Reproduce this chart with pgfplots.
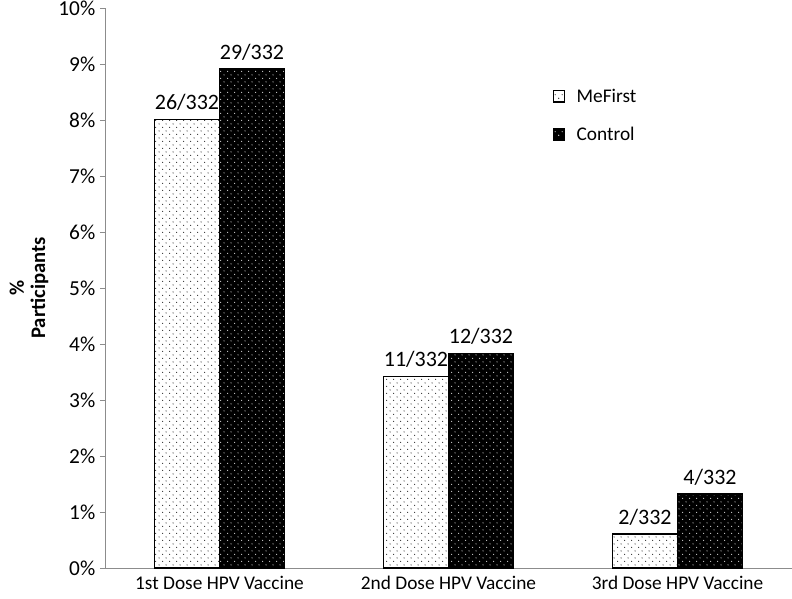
\documentclass[border=0pt]{standalone}
\usepackage{fontspec}
\setmainfont{Carlito}
\usepackage{pgfplots}
\pgfplotsset{compat=1.18}
\usetikzlibrary{patterns}
\pgfdeclarepatternformonly{sdots}{\pgfpointorigin}{\pgfqpoint{5.5pt}{5.5pt}}{\pgfqpoint{5.5pt}{5.5pt}}{%
  \pgfpathcircle{\pgfqpoint{1.375pt}{1.375pt}}{0.45pt}%
  \pgfpathcircle{\pgfqpoint{4.125pt}{4.125pt}}{0.45pt}%
  \pgfusepath{fill}}
\pgfplotstableread{
x y lab
0 8.01 26/332
1 3.42 11/332
2 0.61 2/332
}\mefirst
\pgfplotstableread{
x y lab
0 8.91 29/332
1 3.83 12/332
2 1.32 4/332
}\control
\begin{document}
\begin{tikzpicture}
\begin{axis}[
  name=ax,
  scale only axis,
  width=515.25pt, height=420pt,
  xmin=-0.5, xmax=2.5, ymin=0, ymax=10,
  ybar=0pt, bar width=48.75pt,
  axis x line*=bottom, axis y line*=left,
  axis line style={-, draw=gray!90},
  xtick={0,1,2},
  xticklabels={1st Dose HPV Vaccine,2nd Dose HPV Vaccine,3rd Dose HPV Vaccine},
  xtick style={draw=none},
  ytick={0,1,...,10},
  ytick style={draw=gray!90},
  tick align=outside,
  major tick length=3.75pt,
  yticklabel={\pgfmathprintnumber{\tick}\%},
  /pgf/number format/assume math mode=true,
  yticklabel style={font=\fontsize{16}{17}\selectfont},
  xticklabel style={font=\fontsize{14.5}{17}\selectfont, yshift=1pt},
  every axis y label/.style={at={(axis description cs:0,0.5)}, xshift=-57pt, rotate=90, anchor=center, align=center, font=\fontsize{15.5}{16}\selectfont\bfseries},
  ylabel={\%\\Participants},
  nodes near coords,
  point meta=explicit symbolic,
  every node near coord/.append style={font=\fontsize{16.5}{18}\selectfont, anchor=south, inner sep=6pt},
  legend style={draw=none, fill=none, at={(axis description cs:0.651,0.861)}, anchor=north west, row sep=13pt, font=\fontsize{14.5}{16}\selectfont, inner sep=0pt},
  legend cell align=left,
  legend image code/.code={\draw[#1, line width=0.9pt] (0pt,-4.2pt) rectangle (8.4pt,4.2pt); \path (15pt,0pt);},
]
\addplot[draw=black, line width=1.3pt, fill=white, postaction={pattern=sdots, pattern color=black}] table[x=x, y=y, meta=lab] {\mefirst};
\addlegendentry{MeFirst}
\addplot[draw=black, line width=1.3pt, fill=black, postaction={pattern=sdots, pattern color=white}] table[x=x, y=y, meta=lab] {\control};
\addlegendentry{Control}
\end{axis}
\pgfresetboundingbox
\path[use as bounding box] ([xshift=-78.75pt,yshift=-23.25pt]ax.south west) rectangle ([yshift=6pt]ax.north east);
\end{tikzpicture}
\end{document}
